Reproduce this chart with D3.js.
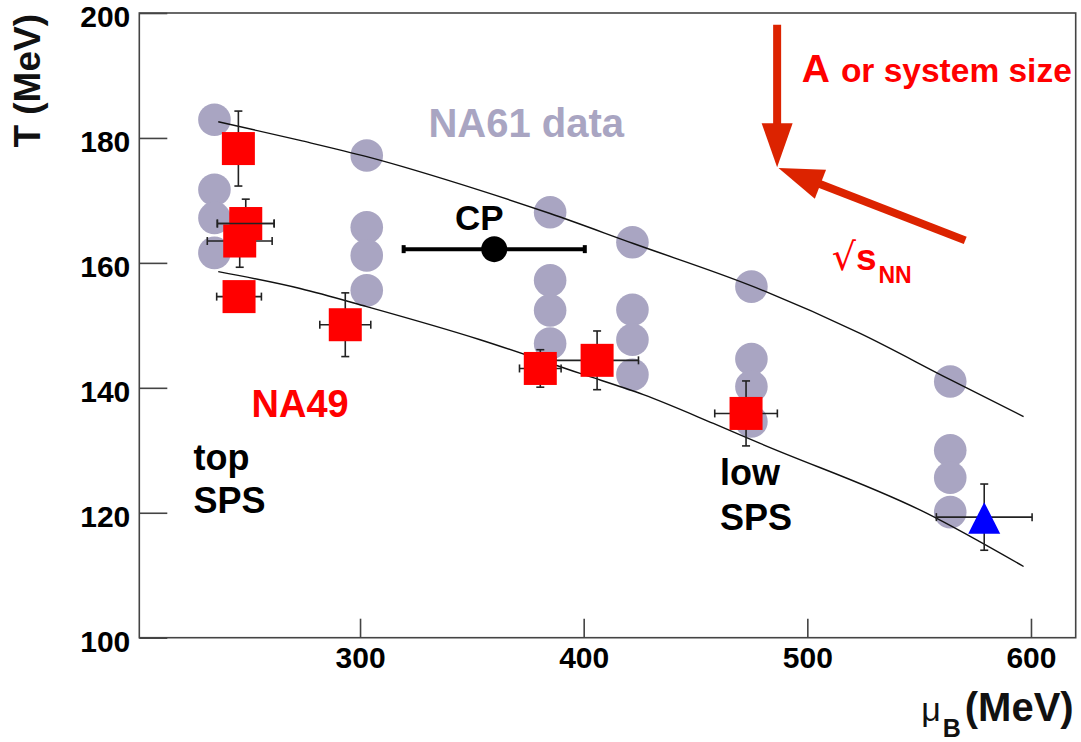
<!DOCTYPE html>
<html>
<head>
<meta charset="utf-8">
<script src="https://cdn.jsdelivr.net/npm/d3@7"></script>
<style>
  html, body { margin: 0; padding: 0; background: #fff; }
  svg { display: block; }
  text { font-family: "Liberation Sans", Arial, sans-serif; }
</style>
</head>
<body>
<svg id="chart" width="1081" height="742"></svg>
<script>
// ---------- data ----------
const xTicks = [300, 400, 500, 600];
const yTicks = [100, 120, 140, 160, 180, 200];

// NA61 data (grey dots)
const na61Mu = [234.9, 234.9, 234.9, 234.9,
                303.0, 303.0, 303.0, 303.0,
                385.0, 385.0, 385.0, 385.0,
                421.8, 421.8, 421.8, 421.8,
                475.0, 475.0, 475.0, 475.0,
                563.9, 563.9, 563.9, 563.9];
const na61T  = [182.9, 171.7, 167.2, 161.6,
                177.2, 165.7, 161.2, 155.6,
                168.1, 157.2, 152.4, 147.1,
                163.3, 152.5, 147.7, 142.1,
                156.2, 144.6, 140.2, 134.6,
                141.0, 130.0, 125.6, 120.1];

// NA49 data (red squares)
const na49Mu    = [245.6, 248.9, 246.2, 245.9, 293.4, 380.6, 406.0, 472.6];
const na49T     = [178.3, 166.3, 163.5, 154.6, 150.1, 143.1, 144.4, 135.9];
const na49MuErr = [0, 12.7, 14.5, 10.0, 11.4, 9.3, 18.5, 14.0];
const na49TErr  = [6.0, 3.9, 4.2, 0, 5.1, 3.0, 4.7, 5.2];

// blue triangle
const triMu = [579.1], triT = [119.3], triMuErr = [21.4], triTErr = [5.3];

// critical point
const cpMu = [360.0], cpT = [162.2], cpMuErr = [40.5];

// freeze-out curves
const upperMu = [236.6, 273.2, 303.0, 353.7, 385.0, 422.2, 475.9, 523.6, 563.9, 596.7];
const upperT  = [182.6, 179.6, 177.0, 171.6, 167.9, 163.1, 156.2, 148.7, 141.3, 135.4];
const lowerMu = [236.6, 273.2, 303.0, 353.7, 398.4, 426.7, 458.0, 478.9, 553.5, 596.7];
const lowerT  = [158.6, 155.9, 153.0, 147.7, 142.3, 138.9, 134.3, 131.1, 119.9, 111.4];

// ---------- layout ----------
const svg = d3.select("#chart");
const L = 139.3, R = 1075.7, T = 13, B = 637.7;
const x = d3.scaleLinear().domain([201.3, 620]).range([L, R]);
const y = d3.scaleLinear().domain([100, 200]).range([B, T]);

const lav = "#a9a5c2";
const red = "#ff0000";
const arrowRed = "#dc2300";
const ax = "#444";

// frame
svg.append("rect").attr("x", L).attr("y", T).attr("width", R - L).attr("height", B - T)
  .attr("fill", "none").attr("stroke", ax).attr("stroke-width", 1.6);

// y axis
const gy = svg.append("g").attr("transform", `translate(${L},0)`)
  .call(d3.axisLeft(y).tickValues(yTicks).tickSize(-28).tickPadding(9).tickFormat(d3.format("d")));
gy.select(".domain").remove();
gy.selectAll(".tick line").attr("stroke", ax).attr("stroke-width", 1.6);
gy.selectAll(".tick text").attr("font-size", 30).attr("font-weight", "bold").attr("fill", "#000")
  .attr("font-family", "Liberation Sans, Arial, sans-serif").attr("dy", "0.45em");

// x axis
const gx = svg.append("g").attr("transform", `translate(0,${B})`)
  .call(d3.axisBottom(x).tickValues(xTicks).tickSize(-19).tickPadding(9).tickFormat(d3.format("d")));
gx.select(".domain").remove();
gx.selectAll(".tick line").attr("stroke", ax).attr("stroke-width", 1.6);
gx.selectAll(".tick text").attr("font-size", 30).attr("font-weight", "bold").attr("fill", "#000")
  .attr("font-family", "Liberation Sans, Arial, sans-serif");

// axis titles
svg.append("text").attr("transform", `translate(40,${T + 1}) rotate(-90)`)
  .attr("text-anchor", "end").attr("font-size", 37).attr("font-weight", "bold").attr("fill", "#111")
  .text("T (MeV)");

const xt = svg.append("text").attr("x", R - 2).attr("y", 721).attr("text-anchor", "end").attr("fill", "#111");
xt.append("tspan").attr("font-size", 34).attr("font-weight", "normal").attr("dy", 0).text("μ");
xt.append("tspan").attr("font-size", 25).attr("font-weight", "bold").attr("dy", 16).attr("dx", 2).text("B");
xt.append("tspan").attr("font-size", 40).attr("font-weight", "bold").attr("dy", -16).attr("dx", 4).text("(MeV)");

// NA61 grey dots
const plot = svg.append("g");
plot.selectAll("circle.na61").data(na61Mu.map((m, i) => [m, na61T[i]])).join("circle")
  .attr("class", "na61").attr("cx", d => x(d[0])).attr("cy", d => y(d[1])).attr("r", 16.3)
  .attr("fill", lav);

// curves
const line = d3.line().x(d => x(d[0])).y(d => y(d[1])).curve(d3.curveMonotoneX);
[[upperMu, upperT], [lowerMu, lowerT]].forEach(([ms, ts]) => {
  plot.append("path").datum(ms.map((m, i) => [m, ts[i]])).attr("d", line)
    .attr("fill", "none").attr("stroke", "#111").attr("stroke-width", 1.4);
});

// error bar helper
function errBars(g, mus, ts, muE, tE, cap) {
  mus.forEach((m, i) => {
    const cx = x(m), cy = y(ts[i]);
    const me = muE ? muE[i] : 0, te = tE ? tE[i] : 0;
    if (me > 0) {
      const x0 = x(m - me), x1 = x(m + me);
      g.append("line").attr("x1", x0).attr("x2", x1).attr("y1", cy).attr("y2", cy);
      g.append("line").attr("x1", x0).attr("x2", x0).attr("y1", cy - cap).attr("y2", cy + cap);
      g.append("line").attr("x1", x1).attr("x2", x1).attr("y1", cy - cap).attr("y2", cy + cap);
    }
    if (te > 0) {
      const y0 = y(ts[i] - te), y1 = y(ts[i] + te);
      g.append("line").attr("x1", cx).attr("x2", cx).attr("y1", y0).attr("y2", y1);
      g.append("line").attr("x1", cx - cap).attr("x2", cx + cap).attr("y1", y0).attr("y2", y0);
      g.append("line").attr("x1", cx - cap).attr("x2", cx + cap).attr("y1", y1).attr("y2", y1);
    }
  });
}
const eg = plot.append("g").attr("stroke", "#222").attr("stroke-width", 1.6);
errBars(eg, na49Mu, na49T, na49MuErr, na49TErr, 4);
errBars(eg, triMu, triT, triMuErr, triTErr, 4);

// NA49 squares
const S = 33;
na49Mu.forEach((m, i) => {
  plot.append("rect").attr("x", x(m) - S / 2).attr("y", y(na49T[i]) - S / 2)
    .attr("width", S).attr("height", S).attr("fill", red);
});
// error bar of the second square drawn over the overlapping third square
errBars(plot.append("g").attr("stroke", "#222").attr("stroke-width", 1.6),
  [na49Mu[1]], [na49T[1]], [na49MuErr[1]], [0], 4);

// blue triangle
triMu.forEach((m, i) => {
  const cx = x(m), cy = y(triT[i]);
  plot.append("path").attr("d", `M${cx},${cy - 15} L${cx + 16},${cy + 16.5} L${cx - 16},${cy + 16.5} Z`)
    .attr("fill", "#0000ff");
});

// critical point
cpMu.forEach((m, i) => {
  const cy = y(cpT[i]);
  const x0 = x(m - cpMuErr[i]), x1 = x(m + cpMuErr[i]);
  plot.append("line").attr("x1", x0).attr("x2", x1).attr("y1", cy).attr("y2", cy)
    .attr("stroke", "#000").attr("stroke-width", 4);
  [x0, x1].forEach(xx => plot.append("line").attr("x1", xx).attr("x2", xx)
    .attr("y1", cy - 4).attr("y2", cy + 4).attr("stroke", "#000").attr("stroke-width", 4));
  plot.append("circle").attr("cx", x(m)).attr("cy", cy).attr("r", 13).attr("fill", "#000");
});

// ---------- annotations ----------
function label(mu, t, txt, size, fill) {
  return svg.append("text").attr("x", x(mu)).attr("y", y(t)).attr("font-size", size)
    .attr("font-weight", "bold").attr("fill", fill).text(txt);
}
label(330.6, 180.2, "NA61 data", 40, lav);
label(342.5, 165.3, "CP", 35, "#000");
label(251.5, 135.4, "NA49", 38, red);
label(225.5, 126.8, "top", 36, "#000");
label(225.5, 119.9, "SPS", 36, "#000");
label(461.0, 124.4, "low", 36, "#000");
label(461.0, 117.2, "SPS", 36, "#000");

const aT = svg.append("text").attr("x", x(497.5)).attr("y", y(189.0)).attr("fill", red).attr("font-weight", "bold");
aT.append("tspan").attr("font-size", 39).text("A");
aT.append("tspan").attr("font-size", 33.5).attr("dx", 11).text("or system size");

const sT = svg.append("text").attr("x", x(510.9)).attr("y", y(158.9)).attr("fill", red);
sT.append("tspan").attr("font-size", 38).attr("font-family", "DejaVu Sans, sans-serif").text("√");
sT.append("tspan").attr("font-size", 37).attr("font-weight", "bold").attr("dx", 0).text("s");
sT.append("tspan").attr("font-size", 23).attr("font-weight", "bold").attr("dy", 13).attr("dx", 2).text("NN");

// arrows
function arrow(mu0, t0, mu1, t1, shaftW, headL, headW) {
  const X0 = x(mu0), Y0 = y(t0), X1 = x(mu1), Y1 = y(t1);
  const dx = X1 - X0, dy = Y1 - Y0, len = Math.hypot(dx, dy);
  const ux = dx / len, uy = dy / len, px = -uy, py = ux;
  const bx = X1 - ux * headL, by = Y1 - uy * headL;
  svg.append("line").attr("x1", X0).attr("y1", Y0).attr("x2", bx + ux * 2).attr("y2", by + uy * 2)
    .attr("stroke", arrowRed).attr("stroke-width", shaftW);
  svg.append("path").attr("d",
    `M${X1},${Y1} L${bx + px * headW / 2},${by + py * headW / 2} L${bx - px * headW / 2},${by - py * headW / 2} Z`)
    .attr("fill", arrowRed);
}
arrow(486.5, 198.1, 486.5, 175.3, 8, 44, 31);
arrow(570.6, 163.6, 487.1, 175.2, 8, 45, 31);
</script>
</body>
</html>
